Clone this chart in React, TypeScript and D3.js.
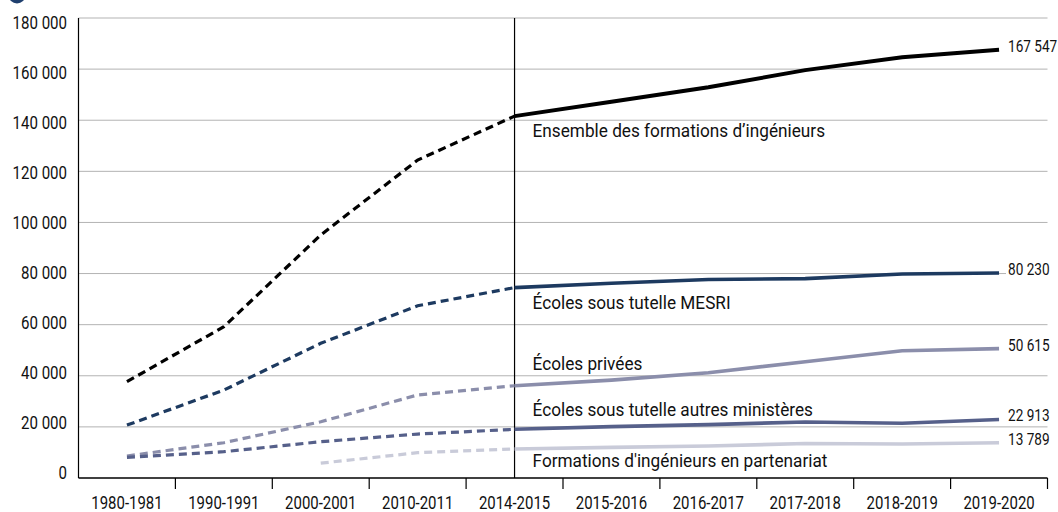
import * as d3 from 'd3'

// effectifs des formations d'ingénieurs
const categories = ['1980-1981', '1990-1991', '2000-2001', '2010-2011', '2014-2015', '2015-2016', '2016-2017', '2017-2018', '2018-2019', '2019-2020']
const ensemble = [37700, 59200, 95100, 124400, 141600, 147200, 152900, 159600, 164600, 167547]
const mesri = [20700, 34400, 52700, 67400, 74500, 76200, 77700, 78000, 79800, 80230]
const privees = [8600, 13800, 22000, 32500, 36100, 38300, 41200, 45500, 49800, 50615]
const autres = [8100, 10300, 14200, 17200, 19050, 20100, 20900, 21900, 21400, 22913]
const partenariat = [null, null, 5800, 9900, 11350, 12000, 12500, 13500, 13300, 13789]
const seriesNames = [
  'Ensemble des formations d’ingénieurs',
  'Écoles sous tutelle MESRI',
  'Écoles privées',
  'Écoles sous tutelle autres ministères',
  "Formations d'ingénieurs en partenariat",
]
const yTicks = [0, 20000, 40000, 60000, 80000, 100000, 120000, 140000, 160000, 180000]
const breakCategory = '2014-2015'

const W = 1058
const H = 512
const font = 'Roboto, "Liberation Sans", Arial, sans-serif'

const fr = d3.formatLocale({ decimal: ',', thousands: ' ', grouping: [3], currency: ['', ' €'] })
const fmt = fr.format(',')

// condensed text: no condensed face is installed, so squeeze Roboto horizontally
function CText(props: {
  x: number; y: number; sx: number; size: number; anchor?: string; baseline?: string; children: any
}) {
  const { x, y, sx, size, anchor = 'start', baseline = 'auto', children } = props
  return (
    <text transform={`translate(${x},${y}) scale(${sx},1)`} textAnchor={anchor}
      dominantBaseline={baseline} fontFamily={font} fontSize={size} fill="#111">
      {children}
    </text>
  )
}

export default function App() {
  const x = d3.scaleBand<string>().domain(categories).range([78.5, 1047.5])
  const xc = (c: string) => (x(c) as number) + x.bandwidth() / 2
  const y = d3.scaleLinear().domain([0, 180000]).range([478, 18])
  // tick labels sit slightly inside the gridlines in the original
  const yl = d3.scaleLinear().domain([0, 180000]).range([473, 23])

  const breakIdx = categories.indexOf(breakCategory)

  const series = [
    { name: seriesNames[0], values: ensemble, color: '#000000', width: 4, labelDy: 21 },
    { name: seriesNames[1], values: mesri, color: '#1d3a60', width: 3.6, labelDy: 21 },
    { name: seriesNames[2], values: privees, color: '#8b8eab', width: 3.6, labelDy: -16 },
    { name: seriesNames[3], values: autres, color: '#56608a', width: 3.6, labelDy: -13.5 },
    { name: seriesNames[4], values: partenariat, color: '#c9cbd9', width: 3.6, labelDy: 18 },
  ]

  const line = d3
    .line<[string, number | null]>()
    .defined(d => d[1] != null)
    .x(d => xc(d[0]))
    .y(d => y(d[1] as number))

  const xBreak = xc(breakCategory)
  const left = x.range()[0]
  const right = x.range()[1]

  return (
    <svg width={W} height={H} style={{ position: 'absolute', left: 0, top: 0, background: '#fff' }}>
      {/* remnant of the title bullet */}
      <circle cx={17} cy={-5} r={8.5} fill="#1f3f6e" />

      {/* gridlines */}
      {yTicks.filter(t => t > 0).map(t => (
        <line key={t} x1={left} x2={right} y1={y(t)} y2={y(t)} stroke="#b3b3b3" strokeWidth={1} />
      ))}

      {/* y labels */}
      {yTicks.map(t => (
        <CText key={t} x={67} y={yl(t)} sx={0.86} size={17.5} anchor="end" baseline="central">
          {fmt(t)}
        </CText>
      ))}

      {/* axes */}
      <line x1={left} x2={left} y1={y(180000)} y2={y(0)} stroke="#000" strokeWidth={1.2} />
      <line x1={left} x2={right} y1={y(0)} y2={y(0)} stroke="#000" strokeWidth={1.4} />
      {categories.map(c => (
        <line key={c} x1={(x(c) as number) + x.bandwidth()} x2={(x(c) as number) + x.bandwidth()}
          y1={y(0)} y2={y(0) + 11} stroke="#000" strokeWidth={1.2} />
      ))}
      {categories.map(c => (
        <CText key={c} x={xc(c)} y={509} sx={0.83} size={18} anchor="middle">
          {c}
        </CText>
      ))}

      {/* break between historical and yearly series */}
      <line x1={xBreak} x2={xBreak} y1={y(180000)} y2={y(0)} stroke="#000" strokeWidth={1.2} />

      {/* series */}
      {series.map(s => {
        const pts = categories.map((c, i) => [c, s.values[i]] as [string, number | null])
        return (
          <g key={s.name}>
            <path d={line(pts.slice(0, breakIdx + 1)) || ''} fill="none" stroke={s.color}
              strokeWidth={3.2} strokeDasharray="8,5" />
            <path d={line(pts.slice(breakIdx)) || ''} fill="none" stroke={s.color} strokeWidth={s.width} />
          </g>
        )
      })}

      {/* series names */}
      {series.map(s => (
        <CText key={s.name} x={xBreak + 18} y={y(s.values[breakIdx] as number) + s.labelDy} sx={0.93} size={18.5}>
          {s.name}
        </CText>
      ))}

      {/* last values */}
      {series.map(s => {
        const v = s.values[s.values.length - 1] as number
        return (
          <g key={s.name + 'v'}>
            <rect x={1006} y={y(v) - 13} width={52} height={19} fill="#fff" />
            <CText x={1008} y={y(v) - 3.5} sx={0.8} size={17} baseline="central">
              {fmt(v)}
            </CText>
          </g>
        )
      })}
    </svg>
  )
}
